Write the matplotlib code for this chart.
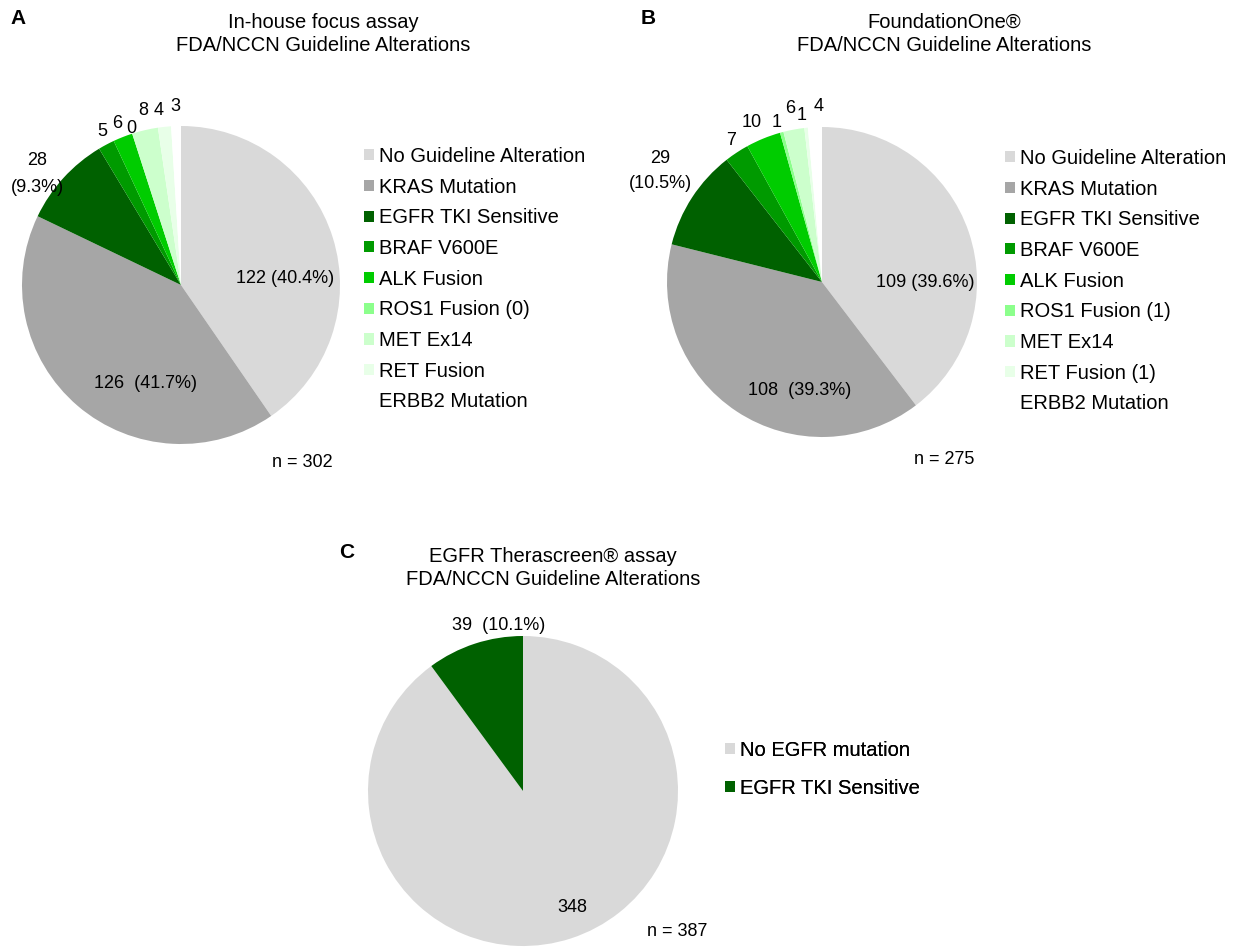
import numpy as np
import matplotlib.pyplot as plt

plt.rcParams['font.family'] = ['Liberation Sans', 'DejaVu Sans']

W, H = 1241, 948

# Panel A: in-house focus assay
counts_a = [122, 126, 28, 5, 6, 0, 8, 4, 3]
legend_a = ["No Guideline Alteration", "KRAS Mutation", "EGFR TKI Sensitive",
            "BRAF V600E", "ALK Fusion", "ROS1 Fusion (0)", "MET Ex14",
            "RET Fusion", "ERBB2 Mutation"]

# Panel B: FoundationOne
counts_b = [109, 108, 29, 7, 10, 1, 6, 1, 4]
legend_b = ["No Guideline Alteration", "KRAS Mutation", "EGFR TKI Sensitive",
            "BRAF V600E", "ALK Fusion", "ROS1 Fusion (1)", "MET Ex14",
            "RET Fusion (1)", "ERBB2 Mutation"]

# Panel C: EGFR Therascreen
labels_c = ["No EGFR mutation", "EGFR TKI Sensitive"]
counts_c = [348, 39]

colors_ab = ["#d9d9d9", "#a6a6a6", "#006100", "#009a00", "#00cc00",
             "#8cff8c", "#ccffcc", "#e8ffe8", "#ffffff"]
colors_c = ["#d9d9d9", "#006100"]

fig = plt.figure(figsize=(W / 100, H / 100), dpi=100)
ax = fig.add_axes([0, 0, 1, 1])


def pct(v, tot):
    return "{:.1f}%".format(100.0 * v / tot)


def draw_pie(counts, colors, cx, cy, r):
    wedges, _ = ax.pie(counts, colors=colors, startangle=90, counterclock=False,
                       center=(cx, H - cy), radius=r,
                       wedgeprops=dict(linewidth=0))
    return wedges


def txt(x, y, s, size=13, **kw):
    ax.text(x, H - y, s, fontsize=size, ha="center", va="center", **kw)


def make_legend(wedges, names, x, y, spacing):
    leg = ax.legend(wedges, names, loc="upper left",
                    bbox_to_anchor=(x / W, 1 - y / H), frameon=False,
                    fontsize=14.5, handlelength=0.48, handleheight=0.48,
                    handletextpad=0.25, labelspacing=spacing,
                    borderpad=0, borderaxespad=0)
    ax.add_artist(leg)


# ---- A ----
wa = draw_pie(counts_a, colors_ab, 181, 285, 159)
tot_a = sum(counts_a)
txt(285, 278, "{} ({})".format(counts_a[0], pct(counts_a[0], tot_a)))
txt(145, 383, "{}  ({})".format(counts_a[1], pct(counts_a[1], tot_a)))
txt(37, 174, "{}\n({})".format(counts_a[2], pct(counts_a[2], tot_a)), linespacing=1.75)
small_pos_a = [(102, 131), (117, 123), (131, 128), (143, 110), (159, 110), (175, 106)]
for v, (x, y) in zip(counts_a[3:], small_pos_a):
    txt(x, y, str(v))
txt(302, 462, "n = {}".format(tot_a))
make_legend(wa, legend_a, 364, 147, 0.58)
txt(323, 34, "In-house focus assay\nFDA/NCCN Guideline Alterations", size=14.5, linespacing=1.25)
txt(18, 18, "A", size=15, fontweight="bold")

# ---- B ----
wb = draw_pie(counts_b, colors_ab, 822, 282, 155)
tot_b = sum(counts_b)
txt(925, 282, "{} ({})".format(counts_b[0], pct(counts_b[0], tot_b)))
txt(800, 390, "{}  ({})".format(counts_b[1], pct(counts_b[1], tot_b)))
txt(660, 171, "{}\n({})".format(counts_b[2], pct(counts_b[2], tot_b)), linespacing=1.65)
small_pos_b = [(731, 140), (752, 122), (777, 122), (790, 108), (802, 115), (819, 106)]
for v, (x, y) in zip(counts_b[3:], small_pos_b):
    txt(x, y, str(v))
txt(944, 459, "n = {}".format(tot_b))
make_legend(wb, legend_b, 1005, 149, 0.58)
txt(944, 34, "FoundationOne\u00ae\nFDA/NCCN Guideline Alterations", size=14.5, linespacing=1.25)
txt(648, 18, "B", size=15, fontweight="bold")

# ---- C ----
wc = draw_pie(counts_c, colors_c, 523, 791, 155)
tot_c = sum(counts_c)
txt(499, 626, "{}  ({})".format(counts_c[1], pct(counts_c[1], tot_c)))
txt(572, 908, str(counts_c[0]))
txt(677, 932, "n = {}".format(tot_c))
make_legend(wc, labels_c, 725, 741, 0.92)
txt(553, 568, "EGFR Therascreen\u00ae assay\nFDA/NCCN Guideline Alterations", size=14.5, linespacing=1.25)
txt(347, 552, "C", size=15, fontweight="bold")

ax.set_xlim(0, W)
ax.set_ylim(0, H)
ax.set_aspect("equal")
ax.axis("off")

fig.savefig("out.png", dpi=100)
